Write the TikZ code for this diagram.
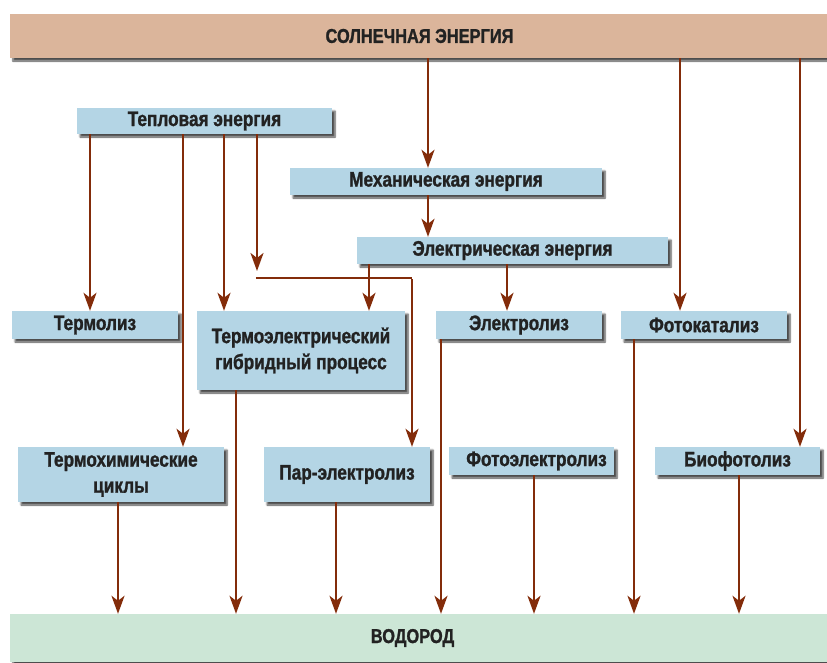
\documentclass[tikz,border=0pt]{standalone}
\usepackage{fontspec}
\newfontfamily\cond[FakeStretch=0.82, BoldFeatures={FakeBold=1.2}]{Liberation Sans}
\usetikzlibrary{arrows.meta,shadows.blur}
\definecolor{arrc}{HTML}{832C0A}
\definecolor{boxblue}{HTML}{B4D5E5}
\definecolor{sunc}{HTML}{DBB59B}
\definecolor{hc}{HTML}{CCE6D6}
\definecolor{txt}{HTML}{222222}
\begin{document}
\begin{tikzpicture}[x=1pt,y=-1pt,
  box/.style={fill=boxblue, blur shadow={shadow xshift=3pt, shadow yshift=-3pt, shadow blur steps=6, shadow opacity=70},
    font=\cond\bfseries\fontsize{21}{23}\selectfont, text=txt, align=center, inner sep=0pt},
  big/.style={box, font=\cond\bfseries\fontsize{20}{23}\selectfont},
  arr/.style={draw=arrc, line width=2.4pt, -{Stealth[length=18pt,width=13pt,inset=5pt]}},
  plain/.style={draw=arrc, line width=2.4pt}]
\useasboundingbox (0,0) rectangle (827,662);
% nodes
\node[big, fill=sunc, minimum width=817pt, minimum height=44pt] (sun) at (418.5,36) {\hspace*{2pt}СОЛНЕЧНАЯ ЭНЕРГИЯ};
\node[box, minimum width=255pt, minimum height=26pt] (heat) at (204.5,121) {Тепловая энергия};
\node[box, minimum width=312pt, minimum height=27pt] (mech) at (446,181.5) {Механическая энергия};
\node[box, minimum width=311pt, minimum height=27pt] (elec) at (512.5,250.5) {Электрическая энергия};
\node[box, minimum width=166pt, minimum height=28pt] (termoliz) at (95,325) {Термолиз};
\node[box, minimum width=208pt, minimum height=79pt] (hybrid) at (301,350.5) {Термоэлектрический\\[3pt]гибридный процесс};
\node[box, minimum width=166pt, minimum height=28pt] (electroliz) at (519,325) {Электролиз};
\node[box, minimum width=166pt, minimum height=28pt] (fotokat) at (704,325) {Фотокатализ};
\node[box, minimum width=206pt, minimum height=55pt] (termochem) at (121,474.5) {Термохимические\\[3pt]циклы};
\node[box, minimum width=166pt, minimum height=55pt] (par) at (347,474.5) {Пар-электролиз};
\node[box, minimum width=165pt, minimum height=28pt] (fotoel) at (531.5,461) {\hspace*{10pt}Фотоэлектролиз};
\node[box, minimum width=165pt, minimum height=28pt] (biofot) at (737.5,461) {Биофотолиз};
\node[big, fill=hc, minimum width=817pt, minimum height=48pt] (h2) at (418.5,638) {ВОДОРОД\hspace*{12pt}};
% from the sun
\draw[arr] (428,0 |- sun.south) -- (428,0 |- mech.north);
\draw[arr] (680,0 |- sun.south) -- (680,0 |- fotokat.north);
\draw[arr] (800,0 |- sun.south) -- (800,0 |- biofot.north);
\draw[arr] (428,0 |- mech.south) -- (428,0 |- elec.north);
% heat
\draw[arr] (90,0 |- heat.south) -- (90,0 |- termoliz.north);
\draw[arr] (183,0 |- heat.south) -- (183,0 |- termochem.north);
\draw[arr] (224,0 |- heat.south) -- (224,0 |- hybrid.north);
\coordinate (j1) at (257,278);
\coordinate (j2) at (412,278);
\draw[arr, shorten >=7pt] (257,0 |- heat.south) -- (j1);
\draw[plain] ([xshift=-1.2pt]j1) -- (j2);
\draw[arr] ([yshift=-1.2pt]j2) -- (j2 |- par.north);
% electricity
\draw[arr] (369,0 |- elec.south) -- (369,0 |- hybrid.north);
\draw[arr] (507,0 |- elec.south) -- (507,0 |- electroliz.north);
% to hydrogen
\draw[arr] (118,0 |- termochem.south) -- (118,0 |- h2.north);
\draw[arr] (236,0 |- hybrid.south) -- (236,0 |- h2.north);
\draw[arr] (336,0 |- par.south) -- (336,0 |- h2.north);
\draw[arr] (441,0 |- electroliz.south) -- (441,0 |- h2.north);
\draw[arr] (534,0 |- fotoel.south) -- (534,0 |- h2.north);
\draw[arr] (634,0 |- fotokat.south) -- (634,0 |- h2.north);
\draw[arr] (739,0 |- biofot.south) -- (739,0 |- h2.north);
\end{tikzpicture}
\end{document}
